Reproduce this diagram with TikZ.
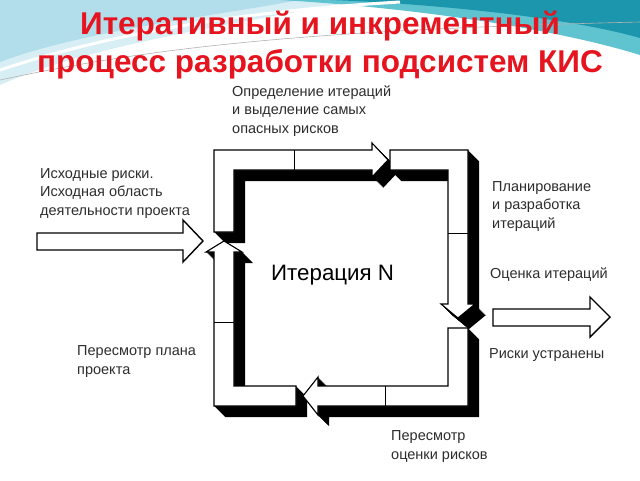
\documentclass[tikz,border=0pt]{standalone}
\usepackage{fontspec}
\setmainfont{Liberation Sans}
\definecolor{titlered}{RGB}{230,20,30}
\definecolor{lblue}{RGB}{178,222,236}
\definecolor{lblue2}{RGB}{215,238,245}
\definecolor{teal1}{RGB}{28,150,172}
\definecolor{teal2}{RGB}{95,195,208}
\definecolor{txtgray}{RGB}{45,45,45}
\tikzset{
  lbl/.style={anchor=base west, inner sep=0pt, align=left, text=txtgray,
    font=\fontsize{14.5}{18.3}\selectfont},
  ttl/.style={anchor=base, inner sep=0pt, text=titlered,
    font=\fontsize{31.5}{36}\selectfont\bfseries},
  band/.style={fill=white, draw=black, line width=1.1pt, line join=miter},
  shade/.style={fill=black},
  divider/.style={draw=black, line width=1pt},
  bigarrow/.style={fill=white, draw=black, line width=1.4pt, line join=miter},
  pathA/.style={insert path={(214,232) -- (214,150) -- (372,150) -- (372,143) -- (388,160) -- (372,177) -- (372,170) -- (234,170) -- (234,232) -- cycle}},
  pathB/.style={insert path={(390,150) -- (468,150) -- (468,304) -- (475,304) -- (458,318) -- (441,304) -- (448,304) -- (448,170) -- (390,170) -- cycle}},
  pathC/.style={insert path={(468,328) -- (468,406) -- (318,406) -- (318,415) -- (303,396) -- (318,377) -- (318,386) -- (448,386) -- (448,328) -- cycle}},
  pathD/.style={insert path={(296,406) -- (214,406) -- (214,252) -- (206,252) -- (224,241) -- (242,252) -- (234,252) -- (234,386) -- (296,386) -- cycle}},
}
\begin{document}
\begin{tikzpicture}[x=1pt,y=-1pt]
\useasboundingbox (0,0) rectangle (640,480);
\fill[white] (0,0) rectangle (640,480);
% header background
\fill[lblue2] (0,0) -- (360,0) .. controls (230,25) and (90,45) .. (0,85) -- cycle;
\fill[lblue] (0,0) -- (300,0) .. controls (200,18) and (80,32) .. (0,62) -- cycle;
\fill[teal2] (280,0) -- (640,0) -- (640,55) .. controls (560,30) and (420,8) .. (280,0) -- cycle;
\fill[teal1] (330,0) -- (640,0) -- (640,38) .. controls (570,18) and (440,4) .. (330,0) -- cycle;
\draw[white, line width=3pt] (0,70) .. controls (120,30) and (260,10) .. (400,2);
\draw[gray!60, line width=0.6pt] (0,80) .. controls (150,48) and (300,30) .. (640,22);
% title
\node[ttl] (title1) at (320,34) {Итеративный и инкрементный};
\node[ttl] (title2) at (320,72) {процесс разработки подсистем КИС};
% shadows (extrusion)
\foreach \t in {0,0.5,...,11} {
  \fill[shade, shift={(\t,\t)}, pathA];
  \fill[shade, shift={(\t,\t)}, pathB];
  \fill[shade, shift={(\t,\t)}, pathC];
  \fill[shade, shift={(\t,\t)}, pathD];
}
% white bands
\path[band, pathA];
\path[band, pathB];
\path[band, pathC];
\path[band, pathD];
% dividers
\draw[divider] (294,150) -- (294,170);
\draw[divider] (448,233) -- (468,233);
\draw[divider] (385,386) -- (385,406);
\draw[divider] (214,322) -- (234,322);
% input and output arrows
\path[bigarrow] (37,233) -- (183,233) -- (183,220) -- (203,241) -- (183,262) -- (183,250) -- (37,250) -- cycle;
\path[bigarrow] (493,309) -- (590,309) -- (590,297) -- (610,317) -- (590,337) -- (590,326) -- (493,326) -- cycle;
% labels (base anchor = baseline of the last line)
\node[lbl] (t1) at (232,133) {Определение итераций\\и выделение самых\\опасных рисков};
\node[lbl] (t2) at (40,215) {Исходные риски.\\Исходная область\\деятельности проекта};
\node[lbl] (t3) at (492,228) {Планирование\\и разработка\\итераций};
\node[lbl] (t4) at (490,278) {Оценка итераций};
\node[lbl] (t5) at (489,358) {Риски устранены};
\node[lbl] (t6) at (77,374) {Пересмотр плана\\проекта};
\node[lbl] (t7) at (391,459) {Пересмотр\\оценки рисков};
\node[anchor=base west, inner sep=0pt, text=black, font=\fontsize{22.3}{26}\selectfont] (iter) at (271,280) {Итерация N};
\end{tikzpicture}
\end{document}
